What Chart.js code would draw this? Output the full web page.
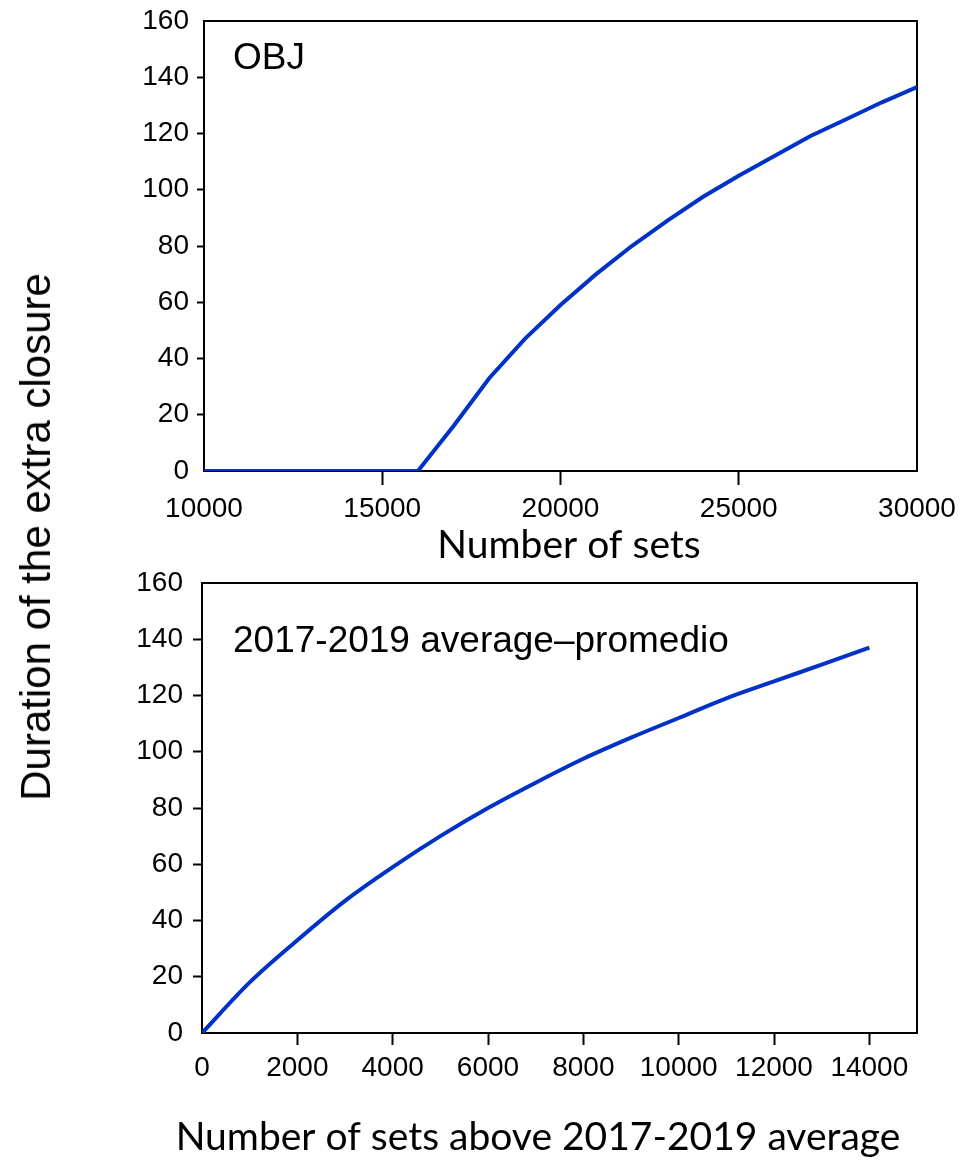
<!DOCTYPE html>
<html>
<head>
<meta charset="utf-8">
<script src="https://cdn.jsdelivr.net/npm/chart.js@4"></script>
<style>
  body { margin: 0; background: #fff; width: 960px; height: 1160px; position: relative; overflow: hidden; }
  #top { position: absolute; left: 0; top: 0; }
  #bottom { position: absolute; left: 0; top: 570px; }
  #ytitle {
    position: absolute; left: 36px; top: 537px;
    transform: translate(-50%, -50%) rotate(-90deg);
    font: 42px "Liberation Sans", Arial, sans-serif; color: #000; white-space: nowrap;
  }
</style>
</head>
<body>
<canvas id="top" width="960" height="570"></canvas>
<canvas id="bottom" width="960" height="590"></canvas>
<div id="ytitle">Duration of the extra closure</div>
<script>
// top panel (OBJ)
const topX = [10000, 11000, 12000, 13000, 14000, 15000, 16000, 17000, 18000, 19000, 20000,
              21000, 22000, 23000, 24000, 25000, 26000, 27000, 28000, 29000, 30000];
const topY = [0, 0, 0, 0, 0, 0, 0, 16, 33, 47, 59, 70, 80, 89, 97.5, 105, 112, 119, 125, 131, 136.5];
const topXTicks = [10000, 15000, 20000, 25000, 30000];

// bottom panel (sets above 2017-2019 average)
const botX = [0, 1000, 2000, 3000, 4000, 5000, 6000, 7000, 8000, 9000, 10000, 11000, 12000, 13000, 14000];
const botY = [0, 18, 33, 47, 59, 70, 80, 89, 97.5, 105, 112, 119, 125, 131, 137];
const botXTicks = [0, 2000, 4000, 6000, 8000, 10000, 12000, 14000];

const yTicks = [0, 20, 40, 60, 80, 100, 120, 140, 160];

const lineColor = 'rgb(0, 50, 200)';
const tickFont = { family: '"Liberation Sans", Arial, sans-serif', size: 28 };

Chart.defaults.color = '#000';

// frame round the plot area, panel label and x title
const framePlugin = {
  id: 'frame',
  beforeDatasetsDraw(chart, args, opts) {
    const { ctx, chartArea: a } = chart;
    ctx.save();
    ctx.strokeStyle = '#000';
    ctx.lineWidth = 2;
    ctx.strokeRect(a.left, a.top, a.right - a.left, a.bottom - a.top);
    ctx.fillStyle = '#000';
    ctx.textBaseline = 'alphabetic';
    ctx.font = '37px "Liberation Sans", Arial, sans-serif';
    ctx.textAlign = 'left';
    ctx.fillText(opts.label, a.left + opts.dx, a.top + opts.dy);
    ctx.font = '39px Lato, "Open Sans", sans-serif';
    ctx.textAlign = 'center';
    ctx.fillText(opts.xTitle, opts.titleX, opts.titleY);
    ctx.restore();
  }
};

function hideEdge(min, max) {
  return (c) => (c.tick && (c.tick.value === min || c.tick.value === max)) ? 'rgba(0,0,0,0)' : '#000';
}

function makeChart(id, xs, ys, xTicks, o) {
  return new Chart(document.getElementById(id), {
    type: 'line',
    data: {
      datasets: [{
        data: xs.map((x, i) => ({ x: x, y: ys[i] })),
        borderColor: lineColor,
        borderWidth: 4,
        pointRadius: 0,
        cubicInterpolationMode: o.smooth ? 'monotone' : 'default',
        tension: 0,
        fill: false
      }]
    },
    options: {
      responsive: false,
      animation: false,
      layout: { padding: { left: 0, right: 43, top: o.padTop, bottom: 0 } },
      plugins: {
        legend: { display: false },
        tooltip: { enabled: false },
        frame: { label: o.label, dx: o.labelDx, dy: o.labelDy, xTitle: o.xTitle, titleX: o.titleX, titleY: o.titleY }
      },
      scales: {
        x: {
          type: 'linear',
          min: o.xMin, max: o.xMax,
          afterFit: (s) => { s.height = o.xHeight; s.paddingLeft = 0; s.paddingRight = 0; },
          afterBuildTicks: (s) => { s.ticks = xTicks.map(v => ({ value: v })); },
          ticks: { font: tickFont, padding: o.xPad, maxRotation: 0, autoSkip: false,
                   callback: (v) => String(v) },
          grid: { drawOnChartArea: false, tickLength: o.xTick, tickWidth: 2, tickColor: hideEdge(o.xMin, o.xMax) },
          border: { display: false }
        },
        y: {
          min: 0, max: 160,
          afterFit: (s) => { s.width = o.left; s.paddingTop = 0; s.paddingBottom = 0; },
          afterBuildTicks: (s) => { s.ticks = yTicks.map(v => ({ value: v })); },
          ticks: { font: tickFont, padding: o.yPad },
          grid: { drawOnChartArea: false, tickLength: o.yTick, tickWidth: 2, tickColor: hideEdge(0, 160) },
          border: { display: false }
        }
      }
    },
    plugins: [framePlugin]
  });
}

makeChart('top', topX, topY, topXTicks, {
  label: 'OBJ', labelDx: 29, labelDy: 48,
  padTop: 21, left: 204, xHeight: 99,
  xMin: 10000, xMax: 30000, smooth: false,
  xTick: 14, xPad: 7, yTick: 7, yPad: 8,
  xTitle: 'Number of sets', titleX: 569, titleY: 558
});

makeChart('bottom', botX, botY, botXTicks, {
  label: '2017-2019 average\u2013promedio', labelDx: 31, labelDy: 69,
  padTop: 13, left: 202, xHeight: 127,
  xMin: 0, xMax: 15000, smooth: true,
  xTick: 12, xPad: 6, yTick: 9, yPad: 10,
  xTitle: 'Number of sets above 2017-2019 average', titleX: 538, titleY: 580
});
</script>
</body>
</html>
